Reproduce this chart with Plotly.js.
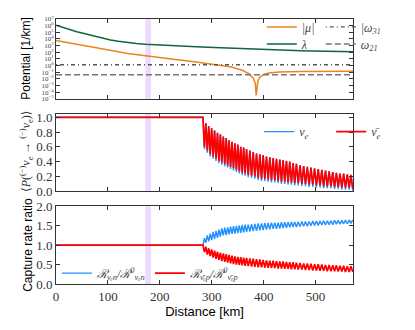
<!DOCTYPE html>
<html>
<head>
<meta charset="utf-8">
<script src="https://cdn.plot.ly/plotly-3.0.1.min.js"></script>
<style>
  html, body { margin: 0; padding: 0; background: #fff; }
  #chart { width: 415px; height: 330px; }
</style>
</head>
<body>
<div id="chart"></div>
<script>
// x axis: distance [km]
const distanceMax = 572;
const distanceTicks = [0, 100, 200, 300, 400, 500];
const bandKm = [172, 183];

// top panel: potentials [1/km]
const lambdaKm = [0, 10, 20, 30, 40, 50, 70, 88, 105, 120, 138, 155, 172, 200, 238, 270, 305, 350, 388, 430, 472, 520, 572];
const lambdaVal = [1.2e6, 6.3e5, 3.4e5, 2.0e5, 1.2e5, 7.8e4, 3.2e4, 1.3e4, 7.1e3, 4.6e3, 2.9e3, 2.1e3, 1.6e3, 1.15e3, 850, 650, 500, 355, 275, 215, 170, 141, 120];
const muKm = [0, 20, 38, 55, 72, 90, 105, 120, 138, 155, 172, 200, 238, 270, 305, 338, 360, 372, 380, 384, 385.5, 387, 389, 392, 400, 410, 430, 470, 520, 572];
const muVal = [5.9e3, 2.95e3, 1.6e3, 930, 550, 310, 190, 117, 66, 43, 28, 15, 6.8, 3.3, 1.4, 0.59, 0.18, 0.055, 0.0126, 0.002, 3.2e-5, 1.26e-3, 5.0e-3, 0.016, 0.045, 0.076, 0.107, 0.126, 0.135, 0.141];
const omega31 = 1.3;
const omega21 = 0.04;
const potExponents = [-5, -4, -3, -2, -1, 0, 1, 2, 3, 4, 5, 6, 7];

// middle + bottom panels share the turning points of the oscillation
const oscKm = [0, 283,
  285.8, 288.6, 291.4, 294.2, 297.0, 299.8, 302.6, 305.4, 308.2, 311.0,
  313.8, 316.6, 319.4, 322.2, 325.0, 327.8, 330.6, 333.4, 336.2, 339.0,
  341.8, 344.6, 347.4, 350.2, 353.0, 355.8, 358.6, 361.4, 364.2, 367.0,
  370.2, 373.4, 376.6, 379.8, 383.0, 386.2, 389.4, 392.6, 395.8, 399.0,
  402.2, 405.4, 408.6, 411.8, 415.0, 418.2, 421.4, 424.6, 427.8, 431.0,
  434.2, 437.4, 440.6, 443.8, 447.0, 450.2, 453.4, 456.6, 459.8, 463.0,
  466.5, 470.0, 473.5, 477.0, 480.5, 484.0, 487.5, 491.0, 494.5, 498.0,
  501.5, 505.0, 508.5, 512.0, 515.5, 519.0, 522.5, 526.0, 529.5, 533.0,
  536.5, 540.0, 543.5, 547.0, 550.5, 554.0, 557.5, 561.0, 564.5, 568.0,
  571.5];

const probNuE = [1.0, 1.0,
  0.57, 0.92, 0.52, 0.88, 0.47, 0.85, 0.44, 0.82, 0.41, 0.79,
  0.38, 0.77, 0.36, 0.74, 0.34, 0.72, 0.32, 0.69, 0.30, 0.67,
  0.28, 0.65, 0.26, 0.63, 0.24, 0.60, 0.22, 0.59, 0.21, 0.57,
  0.19, 0.55, 0.18, 0.53, 0.17, 0.51, 0.15, 0.50, 0.14, 0.49,
  0.14, 0.47, 0.13, 0.46, 0.12, 0.45, 0.12, 0.44, 0.11, 0.43,
  0.10, 0.42, 0.10, 0.41, 0.09, 0.40, 0.09, 0.38, 0.08, 0.37,
  0.08, 0.35, 0.07, 0.34, 0.07, 0.33, 0.06, 0.32, 0.06, 0.31,
  0.05, 0.30, 0.05, 0.29, 0.04, 0.28, 0.04, 0.27, 0.04, 0.26,
  0.03, 0.25, 0.03, 0.24, 0.02, 0.24, 0.02, 0.23, 0.02, 0.22,
  0.01];
const probAntiNuE = [1.0, 1.0,
  0.60, 0.92, 0.55, 0.88, 0.50, 0.85, 0.47, 0.82, 0.44, 0.79,
  0.41, 0.77, 0.39, 0.74, 0.37, 0.72, 0.35, 0.69, 0.33, 0.67,
  0.31, 0.65, 0.29, 0.63, 0.27, 0.60, 0.25, 0.59, 0.24, 0.57,
  0.22, 0.55, 0.21, 0.53, 0.20, 0.51, 0.18, 0.50, 0.17, 0.49,
  0.17, 0.47, 0.16, 0.46, 0.15, 0.45, 0.15, 0.44, 0.14, 0.43,
  0.13, 0.42, 0.13, 0.41, 0.12, 0.40, 0.12, 0.38, 0.11, 0.37,
  0.11, 0.35, 0.10, 0.34, 0.10, 0.33, 0.09, 0.32, 0.09, 0.31,
  0.08, 0.30, 0.08, 0.29, 0.07, 0.28, 0.07, 0.27, 0.07, 0.26,
  0.06, 0.25, 0.06, 0.24, 0.05, 0.24, 0.05, 0.23, 0.05, 0.22,
  0.04];

const ratioNuEn = [1.0, 1.0,
  1.18, 1.06, 1.25, 1.10, 1.30, 1.13, 1.34, 1.16, 1.37, 1.19,
  1.40, 1.22, 1.43, 1.25, 1.45, 1.26, 1.46, 1.28, 1.48, 1.29,
  1.49, 1.30, 1.50, 1.31, 1.51, 1.32, 1.52, 1.33, 1.53, 1.34,
  1.53, 1.35, 1.54, 1.36, 1.55, 1.37, 1.56, 1.38, 1.56, 1.39,
  1.57, 1.40, 1.57, 1.41, 1.58, 1.42, 1.58, 1.42, 1.58, 1.43,
  1.59, 1.44, 1.59, 1.45, 1.59, 1.46, 1.60, 1.47, 1.60, 1.47,
  1.60, 1.48, 1.61, 1.49, 1.61, 1.49, 1.61, 1.50, 1.62, 1.51,
  1.62, 1.51, 1.62, 1.52, 1.63, 1.52, 1.63, 1.53, 1.63, 1.53,
  1.64, 1.54, 1.64, 1.54, 1.64, 1.55, 1.65, 1.55, 1.65, 1.56,
  1.65];
const ratioAntiNuEp = [1.0, 1.0,
  0.82, 0.96, 0.76, 0.92, 0.72, 0.89, 0.68, 0.86, 0.65, 0.83,
  0.62, 0.81, 0.59, 0.79, 0.57, 0.77, 0.55, 0.75, 0.53, 0.73,
  0.51, 0.71, 0.50, 0.70, 0.49, 0.69, 0.48, 0.68, 0.47, 0.67,
  0.46, 0.66, 0.45, 0.65, 0.44, 0.64, 0.43, 0.63, 0.43, 0.62,
  0.42, 0.61, 0.42, 0.60, 0.41, 0.60, 0.41, 0.59, 0.40, 0.58,
  0.40, 0.58, 0.39, 0.57, 0.39, 0.56, 0.38, 0.56, 0.38, 0.55,
  0.37, 0.54, 0.37, 0.53, 0.36, 0.53, 0.36, 0.52, 0.35, 0.51,
  0.35, 0.51, 0.34, 0.50, 0.34, 0.49, 0.33, 0.49, 0.33, 0.48,
  0.33, 0.48, 0.32, 0.47, 0.32, 0.47, 0.31, 0.46, 0.31, 0.46,
  0.31];

const serif = 'Liberation Serif, DejaVu Serif, serif';
const sans = 'Liberation Sans, Arial, sans-serif';
const frameColor = '#333';
const mathFont = { family: serif, size: 12, color: '#444', style: 'italic' };

const ORANGE = '#e8851c';
const GREEN = '#11663b';
const BLUE = '#1e90ff';
const RED = '#ff0000';

/** x axis of one panel */
function distanceAxis(anchor, showLabels) {
    const ax = {
        anchor: anchor,
        domain: [0, 1],
        range: [0, distanceMax],
        tickvals: distanceTicks,
        ticks: 'inside', ticklen: 4, tickcolor: frameColor,
        showline: true, mirror: 'ticks', linecolor: frameColor, linewidth: 1,
        showgrid: false, zeroline: false,
        showticklabels: showLabels,
        tickfont: { family: serif, size: 13, color: '#333' },
        automargin: false
    };
    if (showLabels) {
        ax.title = { text: 'Distance [km]', font: { family: sans, size: 13, color: '#000' }, standoff: 2 };
    }
    return ax;
}

/** y axis of one panel */
function valueAxis(anchor, domain, extra) {
    return Object.assign({
        anchor: anchor,
        domain: domain,
        ticks: 'inside', ticklen: 4, tickcolor: frameColor,
        showline: true, mirror: 'ticks', linecolor: frameColor, linewidth: 1,
        showgrid: false, zeroline: false,
        tickfont: { family: serif, size: 13, color: '#333' },
        automargin: false
    }, extra);
}

const data = [
    // top panel
    { x: muKm, y: muVal, xaxis: 'x', yaxis: 'y', type: 'scatter', mode: 'lines',
      name: '|μ|', legend: 'legend', line: { color: ORANGE, width: 1.5 } },
    { x: lambdaKm, y: lambdaVal, xaxis: 'x', yaxis: 'y', type: 'scatter', mode: 'lines',
      name: 'λ', legend: 'legend2', line: { color: GREEN, width: 1.5 } },
    { x: [0, distanceMax], y: [omega31, omega31], xaxis: 'x', yaxis: 'y', type: 'scatter', mode: 'lines',
      name: '|ω<sub>31</sub>|', legend: 'legend', line: { color: '#555', width: 1.3, dash: '1px,3px,4px,3px' } },
    { x: [0, distanceMax], y: [omega21, omega21], xaxis: 'x', yaxis: 'y', type: 'scatter', mode: 'lines',
      name: 'ω<sub>21</sub>', legend: 'legend2', line: { color: '#777', width: 1.5, dash: '6px,3px' } },
    // middle panel
    { x: oscKm, y: probNuE, xaxis: 'x2', yaxis: 'y2', type: 'scatter', mode: 'lines',
      name: 'ν<sub>e</sub>', legend: 'legend3', line: { color: BLUE, width: 1.4 } },
    { x: oscKm, y: probAntiNuE, xaxis: 'x2', yaxis: 'y2', type: 'scatter', mode: 'lines',
      name: 'ν̄<sub>e</sub>', legend: 'legend3', line: { color: RED, width: 1.7 } },
    // bottom panel
    { x: oscKm, y: ratioNuEn, xaxis: 'x3', yaxis: 'y3', type: 'scatter', mode: 'lines',
      name: 'ℛ<sub>νₑn</sub>/ℛ<sup>0</sup><sub>νₑn</sub>', legend: 'legend4', line: { color: BLUE, width: 1.4 } },
    { x: oscKm, y: ratioAntiNuEp, xaxis: 'x3', yaxis: 'y3', type: 'scatter', mode: 'lines',
      name: 'ℛ<sub>ν̄ₑp</sub>/ℛ<sup>0</sup><sub>ν̄ₑp</sub>', legend: 'legend4', line: { color: RED, width: 1.7 } }
];

const band = (xref, yref) => ({
    type: 'rect', xref: xref, yref: yref + ' domain',
    x0: bandKm[0], x1: bandKm[1], y0: 0, y1: 1,
    fillcolor: 'rgba(200,150,255,0.35)', line: { width: 0 }, layer: 'below'
});

// one horizontal legend per row, like the two-column legends of the figure
const legendRow = (x, y, entrywidth) => ({
    bgcolor: 'rgba(0,0,0,0)', borderwidth: 0,
    font: mathFont, tracegroupgap: 0,
    orientation: 'h', entrywidthmode: 'pixels', entrywidth: entrywidth,
    x: x, y: y, xanchor: 'left', yanchor: 'middle'
});

const yTitle = (text, y, x, font) => ({
    text: text, xref: 'paper', yref: 'paper', x: x, y: y,
    xanchor: 'center', yanchor: 'middle', textangle: -90, showarrow: false, font: font
});

const layout = {
    width: 415, height: 330,
    margin: { l: 56, r: 14, t: 17, b: 46 },
    paper_bgcolor: '#fff', plot_bgcolor: '#fff',
    hovermode: false,
    xaxis: distanceAxis('y', false),
    xaxis2: distanceAxis('y2', false),
    xaxis3: distanceAxis('y3', true),
    yaxis: valueAxis('x', [0.699, 1], {
        type: 'log', range: [-5, 7],
        tickvals: potExponents.map(e => Math.pow(10, e)),
        ticktext: potExponents.map(e => `10<sup>${e < 0 ? '\u2212' + (-e) : e}</sup>`),
        tickfont: { family: serif, size: 7, color: '#444' }
    }),
    yaxis2: valueAxis('x2', [0.35, 0.643], {
        range: [0, 1.05], tickvals: [0, 0.2, 0.4, 0.6, 0.8, 1.0], tickformat: '.1f'
    }),
    yaxis3: valueAxis('x3', [0, 0.293], {
        range: [0, 2], tickvals: [0, 0.5, 1.0, 1.5, 2.0], tickformat: '.1f'
    }),
    shapes: [band('x', 'y'), band('x2', 'y2'), band('x3', 'y3')],
    annotations: [
        yTitle('Potential [1/km]', 0.85, -0.101, { family: sans, size: 12, color: '#000' }),
        yTitle('⟨<i>P</i>(<sup>(−)</sup><i>ν</i><sub>e</sub> → <sup>(−)</sup><i>ν</i><sub>e</sub>)⟩', 0.498, -0.101,
               { family: serif, size: 12, color: '#333' }),
        yTitle('Capture rate ratio', 0.147, -0.095, { family: sans, size: 12, color: '#000' })
    ],
    legend: legendRow(0.693, 0.970, 14),
    legend2: legendRow(0.693, 0.906, 14),
    legend3: legendRow(0.684, 0.575, 27),
    legend4: legendRow(0.003, 0.041, 48)
};

Plotly.newPlot('chart', data, layout, { displayModeBar: false, staticPlot: true });
</script>
</body>
</html>
